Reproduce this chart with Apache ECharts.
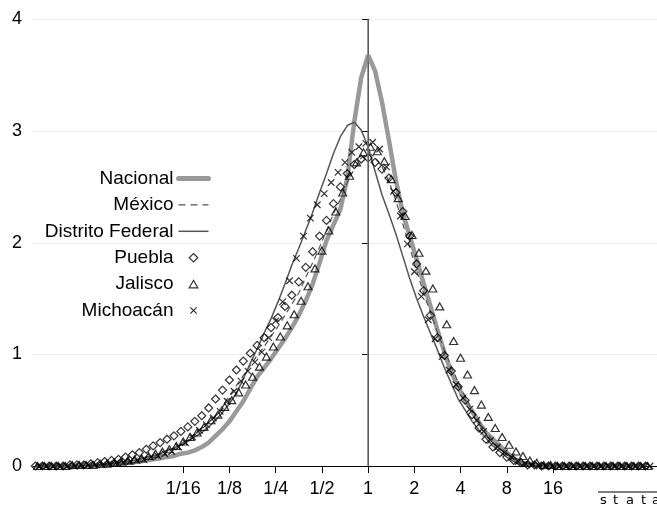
<!DOCTYPE html>
<html>
<head>
<meta charset="utf-8">
<script src="https://cdn.jsdelivr.net/npm/echarts@6/dist/echarts.min.js"></script>
<style>
  html, body { margin: 0; padding: 0; background: #fff; }
  #chart { width: 657px; height: 506px; }
</style>
</head>
<body>
<div id="chart"></div>
<script>
// Kernel density estimates of the income ratio, plotted on a log2 horizontal scale.

// Axis ticks (log2 of the ratio) and their labels
const xTickValues = [-4, -3, -2, -1, 0, 1, 2, 3, 4];
const xTickLabels = ['1/16', '1/8', '1/4', '1/2', '1', '2', '4', '8', '16'];

// Evaluation grid of each estimate: first point (log2) and spacing
const gridStep = 0.15;
const gridStartLines = -7.2;
const gridStartPuebla = -7.2;
const gridStartJalisco = -7.15;
const gridStartMichoacan = -7.1;

// Density values at the grid points
const nacional = [
  0, 0, 0, 0, 0, 0, 0, 0.005, 0.01, 0.01,
  0.01, 0.02, 0.02, 0.03, 0.03, 0.04, 0.05, 0.06, 0.07, 0.08,
  0.09, 0.11, 0.12, 0.14, 0.17, 0.21, 0.27, 0.33, 0.40, 0.49,
  0.58, 0.69, 0.80, 0.88, 0.96, 1.05, 1.14, 1.24, 1.35, 1.48,
  1.63, 1.82, 2.02, 2.16, 2.30, 2.58, 3.08, 3.48, 3.68, 3.54,
  3.26, 2.92, 2.56, 2.27, 2.06, 1.85, 1.64, 1.43, 1.22, 1.02,
  0.84, 0.71, 0.59, 0.49, 0.39, 0.30, 0.24, 0.18, 0.12, 0.07,
  0.03, 0.02, 0.01, 0.01, 0, 0, 0, 0, 0, 0,
  0, 0, 0, 0, 0, 0, 0, 0, 0
];
const mexico = [
  0, 0, 0, 0, 0, 0, 0, 0.005, 0.01, 0.01,
  0.01, 0.02, 0.02, 0.03, 0.04, 0.05, 0.07, 0.08, 0.11, 0.14,
  0.16, 0.20, 0.24, 0.29, 0.34, 0.39, 0.45, 0.54, 0.63, 0.72,
  0.81, 0.90, 0.99, 1.07, 1.16, 1.25, 1.35, 1.45, 1.55, 1.69,
  1.82, 1.96, 2.11, 2.26, 2.39, 2.54, 2.66, 2.76, 2.80, 2.77,
  2.68, 2.55, 2.38, 2.17, 1.96, 1.75, 1.55, 1.37, 1.20, 1.04,
  0.89, 0.75, 0.62, 0.50, 0.40, 0.31, 0.23, 0.17, 0.12, 0.07,
  0.04, 0.02, 0.01, 0, 0, 0, 0, 0, 0, 0,
  0, 0, 0, 0, 0, 0, 0, 0, 0
];
const distritoFederal = [
  0, 0, 0, 0, 0, 0, 0, 0.005, 0.01, 0.01,
  0.01, 0.02, 0.03, 0.04, 0.05, 0.06, 0.08, 0.09, 0.11, 0.14,
  0.16, 0.19, 0.22, 0.26, 0.30, 0.35, 0.41, 0.48, 0.56, 0.65,
  0.78, 0.92, 1.05, 1.19, 1.32, 1.47, 1.63, 1.80, 1.95, 2.11,
  2.27, 2.45, 2.62, 2.80, 2.95, 3.05, 3.08, 3.01, 2.86, 2.64,
  2.43, 2.26, 2.08, 1.88, 1.68, 1.50, 1.34, 1.19, 1.04, 0.88,
  0.74, 0.60, 0.50, 0.40, 0.32, 0.25, 0.18, 0.13, 0.08, 0.04,
  0.01, 0, 0, 0, 0, 0, 0, 0, 0, 0,
  0, 0, 0, 0, 0, 0, 0, 0, 0
];
const puebla = [
  0, 0, 0, 0, 0, 0.01, 0.01, 0.01, 0.02, 0.03,
  0.04, 0.05, 0.06, 0.08, 0.10, 0.12, 0.15, 0.18, 0.21, 0.24,
  0.27, 0.31, 0.35, 0.40, 0.45, 0.52, 0.60, 0.68, 0.77, 0.86,
  0.94, 1.01, 1.08, 1.15, 1.24, 1.33, 1.43, 1.53, 1.65, 1.78,
  1.92, 2.06, 2.20, 2.35, 2.50, 2.62, 2.70, 2.75, 2.76, 2.72,
  2.66, 2.58, 2.45, 2.28, 2.06, 1.81, 1.57, 1.35, 1.15, 0.99,
  0.85, 0.71, 0.59, 0.46, 0.34, 0.24, 0.17, 0.12, 0.08, 0.05,
  0.03, 0.01, 0.01, 0, 0, 0, 0, 0, 0, 0,
  0, 0, 0, 0, 0, 0, 0, 0, 0
];
const jalisco = [
  0, 0, 0, 0, 0, 0.01, 0.01, 0.01, 0.01, 0.02,
  0.02, 0.03, 0.04, 0.05, 0.06, 0.07, 0.09, 0.11, 0.13, 0.15,
  0.18, 0.22, 0.26, 0.30, 0.35, 0.41, 0.46, 0.53, 0.59, 0.66,
  0.73, 0.80, 0.89, 0.98, 1.07, 1.16, 1.26, 1.36, 1.48, 1.61,
  1.77, 1.93, 2.11, 2.28, 2.45, 2.60, 2.72, 2.81, 2.86, 2.82,
  2.73, 2.57, 2.40, 2.24, 2.07, 1.91, 1.75, 1.59, 1.43, 1.27,
  1.12, 0.97, 0.82, 0.68, 0.55, 0.44, 0.34, 0.26, 0.19, 0.13,
  0.09, 0.05, 0.03, 0.01, 0.01, 0, 0, 0, 0, 0,
  0, 0, 0, 0, 0, 0, 0, 0, 0
];
const michoacan = [
  0, 0, 0, 0, 0, 0, 0.01, 0.01, 0.01, 0.01,
  0.02, 0.03, 0.03, 0.04, 0.05, 0.06, 0.08, 0.09, 0.11, 0.13,
  0.17, 0.21, 0.26, 0.32, 0.37, 0.43, 0.49, 0.58, 0.67, 0.76,
  0.85, 0.93, 1.02, 1.15, 1.30, 1.47, 1.66, 1.86, 2.06, 2.22,
  2.34, 2.44, 2.54, 2.63, 2.72, 2.81, 2.86, 2.89, 2.90, 2.84,
  2.68, 2.46, 2.24, 1.99, 1.74, 1.52, 1.31, 1.14, 0.98, 0.86,
  0.73, 0.61, 0.51, 0.41, 0.31, 0.23, 0.17, 0.12, 0.08, 0.04,
  0.02, 0.01, 0, 0, 0, 0, 0, 0, 0, 0,
  0, 0, 0, 0, 0, 0, 0, 0, 0
];

function onGrid(values, start) {
  return values.map((v, i) => [start + i * gridStep, v]);
}

const FONT = "'Liberation Sans', Arial, sans-serif";
const crossPath = 'path://M0,0L10,10M10,0L0,10';
const markerStyle = { color: 'rgba(0,0,0,0)', borderColor: '#000', borderWidth: 1.2 };

// Legend keys: the shape sits in the middle of a 30x9 box so it keeps its proportions
const keyDiamond = 'path://M0,0M30,9M15,0.3L19.3,4.5L15,8.7L10.7,4.5Z';
const keyTriangle = 'path://M0,0M30,9M15,0.8L19.3,8.2L10.7,8.2Z';
const keyCross = 'path://M0,0M30,9M11.8,1.3L18.2,7.7M18.2,1.3L11.8,7.7';
const hiddenDot = { color: 'rgba(0,0,0,0)', borderWidth: 0, opacity: 0 };
const keyStroke = { color: 'rgba(0,0,0,0)', borderColor: '#000', borderWidth: 1.2 };

const chart = echarts.init(document.getElementById('chart'), null, { renderer: 'canvas' });

chart.setOption({
  animation: false,
  backgroundColor: '#fff',
  grid: { left: 33, top: 19.5, width: 631, height: 446.5 },
  legend: {
    orient: 'vertical',
    align: 'right',
    right: 446,
    top: 169,
    padding: 0,
    itemWidth: 30,
    itemHeight: 9,
    itemGap: 7.4,
    selectedMode: false,
    textStyle: { fontFamily: FONT, fontSize: 19, color: '#000' },
    data: [
      { name: 'Nacional', itemStyle: hiddenDot, lineStyle: { width: 5, color: '#999', cap: 'round' } },
      { name: 'México', itemStyle: hiddenDot, lineStyle: { width: 1.2, color: '#555', type: [7, 5] } },
      { name: 'Distrito Federal', itemStyle: hiddenDot, lineStyle: { width: 1.5, color: '#555' } },
      { name: 'Puebla', icon: keyDiamond, itemStyle: keyStroke },
      { name: 'Jalisco', icon: keyTriangle, itemStyle: keyStroke },
      { name: 'Michoacán', icon: keyCross, itemStyle: keyStroke }
    ]
  },
  xAxis: {
    type: 'value',
    min: -7.25,
    max: 6.25,
    axisLine: { show: true, onZero: false, lineStyle: { color: '#000', width: 1 } },
    axisTick: { show: true, customValues: xTickValues, length: 7, lineStyle: { color: '#000' } },
    axisLabel: {
      show: true,
      customValues: xTickValues,
      margin: 14,
      fontFamily: FONT,
      fontSize: 18,
      color: '#000',
      formatter: v => xTickLabels[xTickValues.indexOf(v)]
    },
    splitLine: { show: false }
  },
  yAxis: {
    type: 'value',
    min: 0,
    max: 4,
    interval: 1,
    axisLine: { show: true, lineStyle: { color: '#000', width: 1 } },
    axisTick: { show: true, length: 6, lineStyle: { color: '#000' } },
    axisLabel: { margin: 11, fontFamily: FONT, fontSize: 18, color: '#000' },
    splitLine: { show: true, lineStyle: { color: '#e6eeee', width: 1 } }
  },
  series: [
    {
      name: 'Nacional',
      type: 'line',
      data: onGrid(nacional, gridStartLines),
      symbol: 'none',
      lineStyle: { color: '#999', width: 4.5 },
      itemStyle: { color: '#999' },
      z: 2,
      markLine: {
        silent: true,
        symbol: 'none',
        label: { show: false },
        lineStyle: { color: '#7a7a7a', width: 1.5, type: 'solid' },
        data: [{ xAxis: 0 }]
      }
    },
    {
      name: 'México',
      type: 'line',
      data: onGrid(mexico, gridStartLines),
      symbol: 'none',
      lineStyle: { color: '#555', width: 1.2, type: [6, 4] },
      itemStyle: { color: '#555' },
      z: 3
    },
    {
      name: 'Distrito Federal',
      type: 'line',
      data: onGrid(distritoFederal, gridStartLines),
      symbol: 'none',
      lineStyle: { color: '#555', width: 1.5 },
      itemStyle: { color: '#555' },
      z: 3
    },
    {
      name: 'Puebla',
      type: 'scatter',
      data: onGrid(puebla, gridStartPuebla),
      symbol: 'diamond',
      symbolSize: [8, 8],
      itemStyle: markerStyle,
      z: 4
    },
    {
      name: 'Jalisco',
      type: 'scatter',
      data: onGrid(jalisco, gridStartJalisco),
      symbol: 'triangle',
      symbolSize: [8, 7],
      itemStyle: markerStyle,
      z: 4
    },
    {
      name: 'Michoacán',
      type: 'scatter',
      data: onGrid(michoacan, gridStartMichoacan),
      symbol: crossPath,
      symbolSize: 6.5,
      itemStyle: markerStyle,
      z: 4
    }
  ],
  graphic: [
    { type: 'line', shape: { x1: 598, y1: 492, x2: 657, y2: 492 }, style: { stroke: '#000', lineWidth: 1.2 } },
    { type: 'text', x: 600, y: 494, style: { text: 's', font: '13px DejaVu Sans', fill: '#000' } },
    { type: 'text', x: 613, y: 494, style: { text: 't', font: '13px DejaVu Sans', fill: '#000' } },
    { type: 'text', x: 626, y: 494, style: { text: 'a', font: '13px DejaVu Sans', fill: '#000' } },
    { type: 'text', x: 641, y: 494, style: { text: 't', font: '13px DejaVu Sans', fill: '#000' } },
    { type: 'text', x: 652, y: 494, style: { text: 'a', font: '13px DejaVu Sans', fill: '#000' } }
  ]
});
</script>
</body>
</html>
